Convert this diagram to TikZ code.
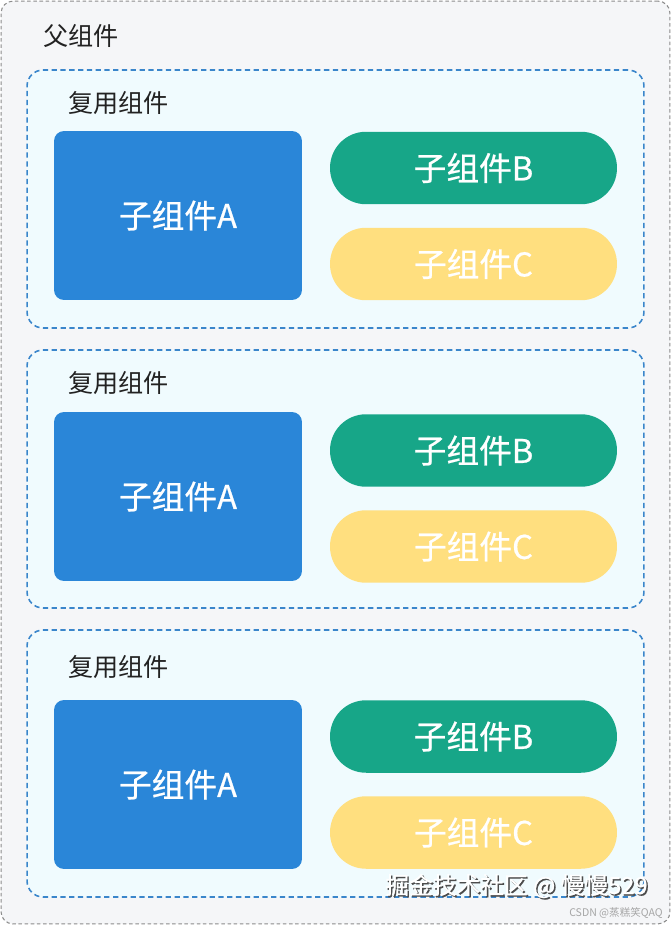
\documentclass[tikz,border=0pt]{standalone}
\usepackage{fontspec}
\setmainfont{Noto Sans CJK SC}
\newfontfamily\boxfont[FakeBold=0.6]{Noto Sans CJK SC}
\usetikzlibrary{calc}

\definecolor{pagebg}{HTML}{F5F6F8}
\definecolor{pageline}{HTML}{8C8C8C}
\definecolor{groupbg}{HTML}{F0FBFE}
\definecolor{groupline}{HTML}{3A86CB}
\definecolor{compA}{HTML}{2A86D8}
\definecolor{compB}{HTML}{17A688}
\definecolor{compC}{HTML}{FFDF7F}
\definecolor{labeltext}{HTML}{222222}

\begin{document}
\begin{tikzpicture}[x=0.02cm,y=-0.02cm,
    parentbox/.style={draw=pageline,fill=pagebg,line width=0.6pt,dash pattern=on 2pt off 1.5pt,rounded corners=0.24cm,minimum width=13.38cm,minimum height=18.46cm,inner sep=0pt},
    groupbox/.style={draw=groupline,fill=groupbg,line width=0.9pt,dash pattern=on 3pt off 2pt,rounded corners=0.32cm,minimum width=12.34cm,inner sep=0pt},
    boxlabel/.style={anchor=west,inner sep=0pt,text=labeltext,font=\fontsize{14.3}{16}\selectfont},
    subA/.style={fill=compA,rounded corners=0.2cm,minimum width=4.96cm,minimum height=3.38cm,text=white,font=\boxfont\fontsize{18.6}{20}\selectfont},
    pill/.style={rounded corners=0.72cm,minimum width=5.74cm,minimum height=1.45cm,text=white,font=\boxfont\fontsize{18.6}{20}\selectfont},
    subB/.style={pill,fill=compB},
    subC/.style={pill,fill=compC}]
      \useasboundingbox (0,0) rectangle (671,925);

      \node[parentbox] (parent) at (335.5,462.5) {};
      \node[boxlabel] (parentlabel) at (43,36) {父组件};

      % first reuse group
      \node[groupbox,minimum height=5.16cm] (groupone) at (335.5,199) {};
      \node[boxlabel] (labelone) at (68,103) {复用组件};
      \node[subA] (aone) at (178,215.5) {子组件A};
      \node[subB] (bone) at (473.5,168) {子组件B};
      \node[subC] (cone) at (473.5,264) {子组件C};

      % second reuse group
      \node[groupbox,minimum height=5.16cm] (grouptwo) at (335.5,479) {};
      \node[boxlabel] (labeltwo) at (68,383) {复用组件};
      \node[subA] (atwo) at (178,496.5) {子组件A};
      \node[subB] (btwo) at (473.5,450.5) {子组件B};
      \node[subC] (ctwo) at (473.5,546.5) {子组件C};

      % third reuse group
      \node[groupbox,minimum height=5.34cm] (groupthree) at (335.5,763.5) {};
      \node[boxlabel] (labelthree) at (68,667) {复用组件};
      \node[subA] (athree) at (178,784.5) {子组件A};
      \node[subB] (bthree) at (473.5,736.5) {子组件B};
      \node[subC] (cthree) at (473.5,832.5) {子组件C};

      % watermarks
      \node[anchor=east,inner sep=0pt,text=black!70,font=\boxfont\fontsize{13.5}{15}\selectfont] (markshadow) at (649.5,887.5) {掘金技术社区 @ 慢慢529};
      \node[anchor=east,inner sep=0pt,text=white,font=\boxfont\fontsize{13.5}{15}\selectfont] (mark) at (648,886) {掘金技术社区 @ 慢慢529};
      \node[anchor=east,inner sep=0pt,text=black!35,font=\fontsize{6}{7}\selectfont] (csdnmark) at (663,913) {CSDN @蒸糕笑QAQ};
    \end{tikzpicture}
\end{document}
